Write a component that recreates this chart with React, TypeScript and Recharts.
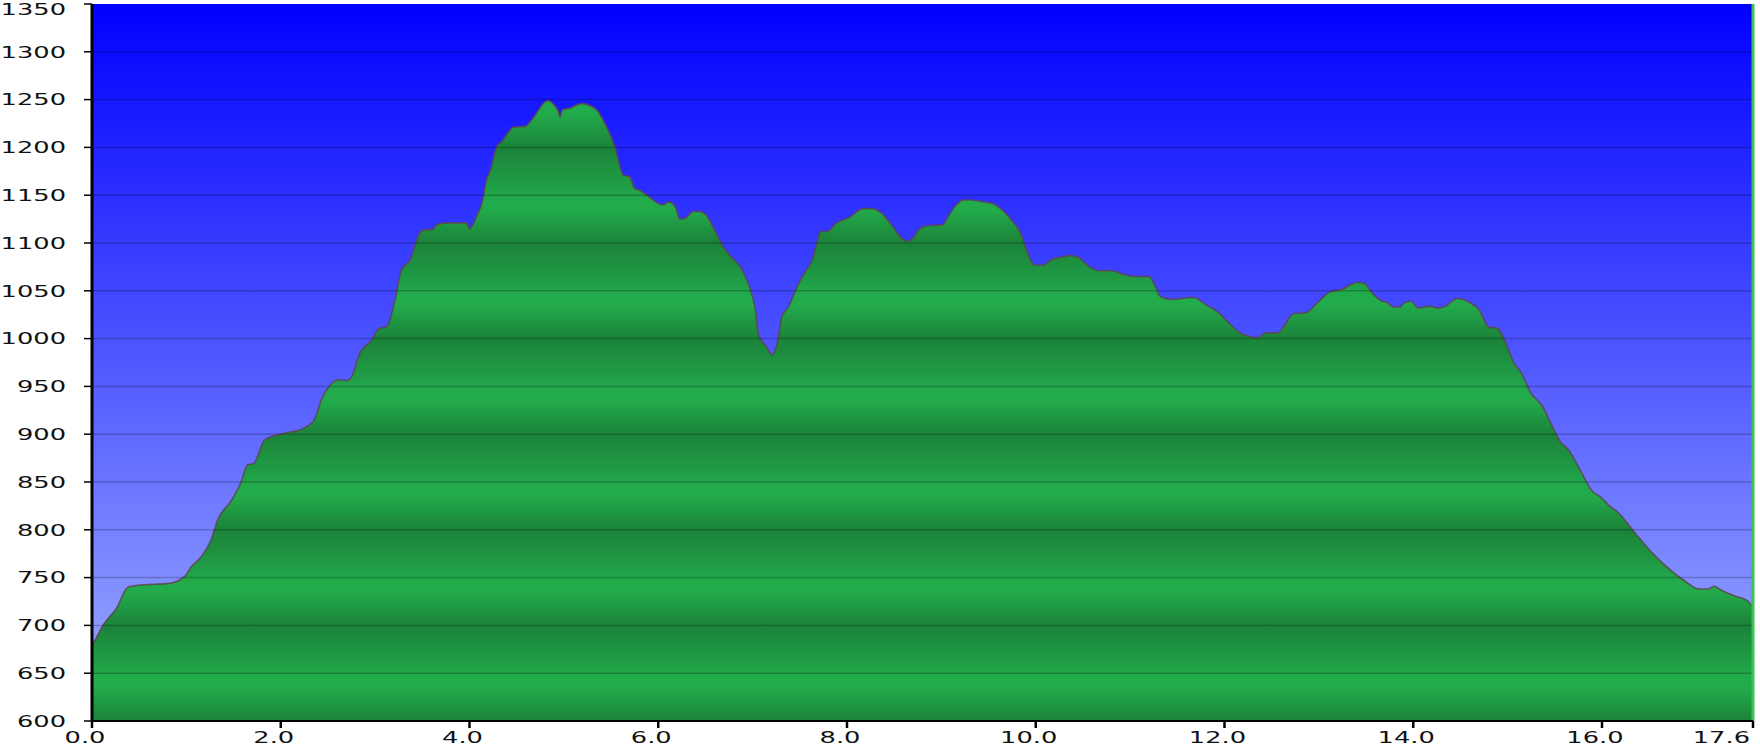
import React from 'react';
import { AreaChart, Area, XAxis, YAxis, CartesianGrid, ReferenceLine } from 'recharts';

// ---- data (distance in km, elevation in m) ----
const distanceKm = [
  0.0, 0.13, 0.26, 0.38, 0.49, 0.82, 0.98, 1.05, 1.16, 1.26, 1.33, 1.48, 1.58, 1.65, 1.71, 1.83,
  2.04, 2.24, 2.36, 2.43, 2.52, 2.61, 2.7, 2.75, 2.84, 2.96, 3.05, 3.12, 3.21, 3.28, 3.37, 3.47,
  3.53, 3.61, 3.65, 3.76, 3.97, 4.0, 4.08, 4.14, 4.18, 4.22, 4.29, 4.34, 4.43, 4.46, 4.59, 4.66,
  4.83, 4.9, 4.94, 4.96, 4.98, 5.06, 5.19, 5.24, 5.35, 5.45, 5.54, 5.63, 5.7, 5.75, 5.81, 5.88,
  6.05, 6.11, 6.18, 6.23, 6.3, 6.37, 6.44, 6.51, 6.58, 6.69, 6.76, 6.87, 6.94, 6.99, 7.03, 7.06,
  7.1, 7.15, 7.2, 7.26, 7.31, 7.38, 7.47, 7.57, 7.63, 7.68, 7.72, 7.79, 7.89, 8.03, 8.17, 8.26,
  8.37, 8.47, 8.58, 8.63, 8.7, 8.76, 8.85, 9.01, 9.08, 9.16, 9.23, 9.31, 9.45, 9.55, 9.66, 9.76,
  9.85, 9.89, 9.99, 10.08, 10.17, 10.26, 10.37, 10.45, 10.57, 10.68, 10.81, 10.93, 11.05, 11.2,
  11.27, 11.32, 11.43, 11.67, 11.81, 11.94, 12.03, 12.15, 12.27, 12.36, 12.43, 12.56, 12.63,
  12.73, 12.86, 12.98, 13.12, 13.23, 13.41, 13.48, 13.57, 13.67, 13.72, 13.79, 13.86, 13.9,
  13.97, 14.06, 14.18, 14.25, 14.32, 14.47, 14.61, 14.7, 14.8, 14.89, 14.96, 15.07, 15.14,
  15.24, 15.37, 15.46, 15.56, 15.65, 15.76, 15.9, 15.99, 16.09, 16.16, 16.34, 16.52, 16.69,
  16.87, 17.03, 17.12, 17.19, 17.26, 17.4, 17.54, 17.6,
];

const elevationM = [
  678, 702, 718, 740, 742, 744, 751, 761, 772, 789, 810, 831, 850, 868, 869, 894,
  901, 906, 916, 936, 951, 957, 956, 960, 985, 998, 1011, 1012, 1040, 1072, 1082, 1110,
  1114, 1114, 1119, 1121, 1121, 1115, 1129, 1145, 1166, 1176, 1201, 1206, 1218, 1221, 1222, 1229,
  1249, 1244, 1238, 1232, 1239, 1241, 1246, 1245, 1239, 1222, 1201, 1171, 1169, 1157, 1155, 1150,
  1140, 1143, 1138, 1125, 1127, 1133, 1133, 1129, 1117, 1096, 1087, 1075, 1061, 1047, 1030, 1005,
  997, 991, 983, 995, 1023, 1033, 1054, 1072, 1082, 1100, 1112, 1112, 1121, 1127, 1136, 1136,
  1131, 1119, 1105, 1102, 1105, 1114, 1118, 1119, 1129, 1140, 1145, 1145, 1143, 1141, 1133, 1122,
  1108, 1096, 1077, 1077, 1083, 1085, 1087, 1085, 1075, 1071, 1071, 1067, 1065, 1065,
  1054, 1044, 1041, 1043, 1035, 1027, 1018, 1007, 1002, 1001, 1006, 1006, 1013,
  1026, 1027, 1037, 1049, 1051, 1059, 1058, 1047, 1039, 1038, 1033, 1033, 1037,
  1039, 1032, 1034, 1032, 1033, 1042, 1037, 1030, 1012, 1011, 1000, 974, 965,
  944, 929, 911, 892, 883, 864, 840, 834, 824, 819, 798, 777, 761,
  747, 738, 738, 741, 737, 731, 726, 719,
];

const yTicks = [600, 650, 700, 750, 800, 850, 900, 950, 1000, 1050, 1100, 1150, 1200, 1250, 1300, 1350];
const xTicks = [0, 2, 4, 6, 8, 10, 12, 14, 16, 17.6];

// ---- layout ----
const CHART_W = 1760;
const CHART_H = 750;
const MARGIN = { top: 4, right: 7, bottom: 0, left: 0 };
const Y_AXIS_W = 92;
const X_AXIS_H = 29;
const Y_MIN = yTicks[0];
const Y_MAX = yTicks[yTicks.length - 1];
const X_MAX = xTicks[xTicks.length - 1];
const PLOT_TOP = MARGIN.top;
const PLOT_H = CHART_H - MARGIN.top - MARGIN.bottom - X_AXIS_H;
const yPx = (e: number) => PLOT_TOP + ((Y_MAX - e) / (Y_MAX - Y_MIN)) * PLOT_H;

const data = distanceKm.map((d, i) => ({ km: d, elev: elevationM[i] }));

const FONT = '"DejaVu Sans", Verdana, sans-serif';
const FS = 15.5;
const STRETCH = 1.66;

function YTick(props: any) {
  const { x, y, payload } = props;
  const baseline = Math.max(y + 5.7, 15.3);
  return (
    <g transform={`translate(${x},${baseline})`}>
      <text
        transform={`scale(${STRETCH},1)`}
        textAnchor="end"
        fontFamily={FONT}
        fontSize={FS}
        fill="#111"
      >
        {payload.value}
      </text>
    </g>
  );
}

function XTick(props: any) {
  const { x, y, payload } = props;
  const isLast = payload.value === X_MAX;
  const tx = isLast ? x - 3 : x - 7;
  return (
    <g transform={`translate(${tx},${y + 13})`}>
      <text
        transform={`scale(${STRETCH},1)`}
        textAnchor={isLast ? 'end' : 'middle'}
        fontFamily={FONT}
        fontSize={FS}
        fill="#111"
      >
        {Number(payload.value).toFixed(1)}
      </text>
    </g>
  );
}

export default function App() {
  const bandTop = yPx(1300);
  const bandBottom = yPx(1200);
  return (
    <div style={{ position: 'absolute', left: 0, top: 0, width: CHART_W, height: CHART_H, background: '#fff' }}>
      <AreaChart width={CHART_W} height={CHART_H} data={data} margin={MARGIN}>
        <defs>
          <linearGradient id="skyGrad" x1="0" y1="0" x2="0" y2="1">
            <stop offset="0" stopColor="#0000ff" />
            <stop offset="1" stopColor="#a0b0ff" />
          </linearGradient>
          <linearGradient
            id="groundGrad"
            gradientUnits="userSpaceOnUse"
            x1="0"
            x2="0"
            y1={bandTop}
            y2={bandBottom}
            spreadMethod="repeat"
          >
            <stop offset="0" stopColor="#1b8339" />
            <stop offset="0.35" stopColor="#1f9a44" />
            <stop offset="0.55" stopColor="#22ab4b" />
            <stop offset="0.65" stopColor="#22ab4b" />
            <stop offset="1" stopColor="#1b8339" />
          </linearGradient>
        </defs>
        <CartesianGrid fill="url(#skyGrad)" fillOpacity={1} horizontal={false} vertical={false} />
        <XAxis
          dataKey="km"
          type="number"
          domain={[0, X_MAX]}
          ticks={xTicks}
          height={X_AXIS_H}
          interval={0}
          axisLine={{ stroke: '#000', strokeWidth: 2 }}
          tickLine={{ stroke: '#000', strokeWidth: 2.5 }}
          tickSize={7}
          tickMargin={2}
          tick={<XTick />}
        />
        <YAxis
          type="number"
          domain={[Y_MIN, Y_MAX]}
          ticks={yTicks}
          width={Y_AXIS_W}
          interval={0}
          axisLine={{ stroke: '#000', strokeWidth: 3 }}
          tickLine={{ stroke: '#000', strokeWidth: 1.5 }}
          tickSize={8}
          tickMargin={18}
          tick={<YTick />}
        />
        <Area
          type="monotone"
          dataKey="elev"
          baseValue={Y_MIN}
          stroke="#5e4550"
          strokeOpacity={0.85}
          strokeWidth={1.6}
          fill="url(#groundGrad)"
          fillOpacity={1}
          isAnimationActive={false}
          dot={false}
          activeDot={false}
        />
        {yTicks.slice(1, -1).map((t) => (
          <ReferenceLine key={t} y={t} stroke="rgba(0,0,0,0.22)" strokeWidth={1.5} />
        ))}
        <ReferenceLine x={X_MAX} stroke="#3cc050" strokeWidth={3} />
      </AreaChart>
    </div>
  );
}
